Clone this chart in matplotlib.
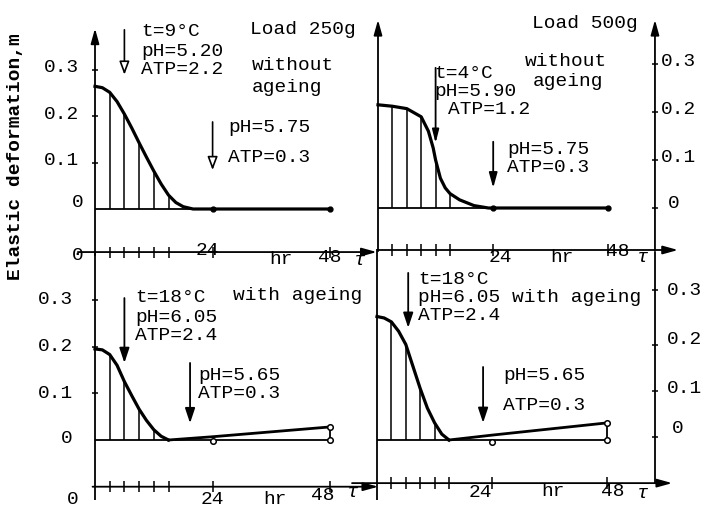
import matplotlib.pyplot as plt

plt.rcParams['font.family'] = ['Liberation Mono', 'DejaVu Sans']

# hours where the hatch lines under the curves are drawn
hatch_hours = [3, 6, 9, 12, 15]
xticks = [3, 6, 9, 12, 15, 24, 48]
yticks = [0.1, 0.2, 0.3]

# load 250g, without ageing
tl_hours = [0, 1.5, 3, 4.5, 6, 7.5, 9, 10.5, 12, 13.5, 15, 16.5, 18, 20, 24, 48]
tl_def = [0.265, 0.262, 0.252, 0.232, 0.205, 0.175, 0.143, 0.112, 0.082, 0.054,
          0.030, 0.014, 0.005, 0.0, 0.0, 0.0]

# load 500g, without ageing
tr_hours = [0, 3, 6, 9, 10.5, 11.5, 12, 13, 14, 15, 17, 20, 23, 24, 48]
tr_def = [0.215, 0.212, 0.207, 0.19, 0.16, 0.125, 0.10, 0.062, 0.042, 0.03,
          0.017, 0.005, 0.0, 0.0, 0.0]

# load 250g, with ageing
bl_hours = [0, 1.5, 3, 4.5, 6, 7.5, 9, 10.5, 12, 13.5, 15]
bl_def = [0.195, 0.193, 0.183, 0.16, 0.125, 0.095, 0.066, 0.042, 0.022, 0.008, 0.0]
bl_age_hours = [15, 24, 48]
bl_age_def = [0.0, 0.007, 0.028]

# load 500g, with ageing
br_hours = [0, 1.5, 3, 4.5, 6, 7.5, 9, 10.5, 12, 13.5, 15]
br_def = [0.252, 0.249, 0.241, 0.222, 0.195, 0.15, 0.105, 0.065, 0.035, 0.012, 0.0]
br_age_hours = [15, 24, 48]
br_age_def = [0.0, 0.01, 0.035]

W, H = 707, 511
fig = plt.figure(figsize=(W / 100, H / 100), dpi=100)
FS = 14


def panel(x0, y0, sx, sy):
    # x0, y0 = pixel of (0 hr, 0 m); sx, sy = pixels per hr / per m
    ax = fig.add_axes([(x0 - 5 * sx) / W, 1 - (y0 + 0.15 * sy) / H,
                       67 * sx / W, 0.57 * sy / H])
    ax.set_xlim(-5, 62)
    ax.set_ylim(-0.15, 0.42)
    ax.axis('off')
    return ax


def arrow(ax, x0, y0, x1, y1, hollow=False, lw=1.3, hl=0.9, hw=0.25):
    ax.annotate('', xy=(x1, y1), xytext=(x0, y0), annotation_clip=False,
                arrowprops=dict(arrowstyle='-|>,head_length=%s,head_width=%s' % (hl, hw),
                                lw=lw, color='k', fc='white' if hollow else 'k',
                                shrinkA=0, shrinkB=0))


def line(ax, xs, ys, lw=1.3):
    ax.plot(xs, ys, color='k', lw=lw, clip_on=False, solid_capstyle='butt')


def txt(x, y, s, **kw):
    fig.text(x / W, 1 - y / H, s, fontsize=FS, va='center', ha='left', **kw)


def curve(ax, hours, vals):
    ax.plot(hours, vals, color='k', lw=2.3, clip_on=False, solid_joinstyle='round')
    for h in hatch_hours:
        ax.vlines(h, 0, vals[hours.index(h)], color='k', lw=1.1)
    line(ax, [0, 48], [0, 0])


def xaxis(ax, v, h0, h1):
    arrow(ax, h0, v, h1, v)
    ax.vlines(xticks, v - 0.012, v + 0.012, color='k', lw=1.1, clip_on=False)


# ---- top left ----
ax = panel(95, 209, 4.9, 463)
arrow(ax, 0, -0.1, 0, 0.39)
xaxis(ax, -0.093, -3.5, 57.5)
ax.hlines(yticks, -0.6, 0.6, color='k', lw=1.1)
curve(ax, tl_hours, tl_def)
ax.plot([24, 48], [0, 0], 'o', color='k', ms=3.5)
for v in [0.3, 0.2, 0.1]:
    ax.text(-3.3, v + 0.005, '%.1f' % v, fontsize=FS, ha='right', va='center')
ax.text(-2.3, 0.015, '0', fontsize=FS, ha='right', va='center')
ax.text(-3.5, -0.1, '0', fontsize=FS, ha='center', va='center')
ax.text(22.9, -0.089, '24', fontsize=FS, ha='center', va='center')
ax.text(38, -0.11, 'hr', fontsize=FS, ha='center', va='center')
ax.text(48, -0.104, '48', fontsize=FS, ha='center', va='center')
ax.text(54, -0.112, 'τ', fontsize=FS, ha='center', va='center', style='italic')
arrow(ax, 6, 0.387, 6, 0.29, hollow=True, lw=1.2, hl=0.8, hw=0.3)
arrow(ax, 24, 0.188, 24, 0.084, hollow=True, lw=1.2, hl=0.8, hw=0.3)

# ---- top right ----
ax = panel(378, 208, 4.8, 480)
arrow(ax, 0, -0.09, 0, 0.392)
arrow(ax, 57.7, -0.09, 57.7, 0.392)
xaxis(ax, -0.0875, 0, 62.5)
ax.hlines([0] + yticks, 57.1, 58.3, color='k', lw=1.1, clip_on=False)
curve(ax, tr_hours, tr_def)
ax.plot([24, 48], [0, 0], 'o', color='k', ms=3.5)
for v in [0.3, 0.2, 0.1]:
    ax.text(58.9, v + 0.005, '%.1f' % v, fontsize=FS, ha='left', va='center')
ax.text(60.3, 0.01, '0', fontsize=FS, ha='left', va='center')
ax.text(25.4, -0.104, '24', fontsize=FS, ha='center', va='center')
ax.text(38.3, -0.104, 'hr', fontsize=FS, ha='center', va='center')
ax.text(50, -0.09, '48', fontsize=FS, ha='center', va='center')
ax.text(55.2, -0.104, 'τ', fontsize=FS, ha='center', va='center', style='italic')
arrow(ax, 12, 0.292, 12, 0.135, hl=0.8, hw=0.2)
arrow(ax, 24, 0.138, 24, 0.042, hl=0.9, hw=0.25)

# ---- bottom left ----
ax = panel(95, 440, 4.9, 467)
line(ax, [0, 0], [0.4, -0.128])
xaxis(ax, -0.1, -0.5, 57.8)
ax.hlines(yticks, -0.6, 0.6, color='k', lw=1.1)
curve(ax, bl_hours, bl_def)
ax.plot(bl_age_hours, bl_age_def, color='k', lw=2, clip_on=False)
line(ax, [48, 48], [0, bl_age_def[-1]])
ax.plot([24, 48, 48], [-0.003, 0, bl_age_def[-1]], 'o', color='k', mfc='white', ms=4, mew=1.1)
for v in [0.3, 0.2, 0.1]:
    ax.text(-4.5, v, '%.1f' % v, fontsize=FS, ha='right', va='center')
ax.text(-4.5, 0.004, '0', fontsize=FS, ha='right', va='center')
ax.text(-4.5, -0.128, '0', fontsize=FS, ha='center', va='center')
ax.text(24, -0.128, '24', fontsize=FS, ha='center', va='center')
ax.text(36.7, -0.128, 'hr', fontsize=FS, ha='center', va='center')
ax.text(46.5, -0.118, '48', fontsize=FS, ha='center', va='center')
ax.text(52.7, -0.113, 'τ', fontsize=FS, ha='center', va='center', style='italic')
arrow(ax, 6, 0.304, 6, 0.165, hl=0.9, hw=0.3)
arrow(ax, 19.4, 0.165, 19.4, 0.036, hl=0.9, hw=0.3)

# ---- bottom right ----
ax = panel(377, 440, 4.8, 490)
line(ax, [0, 0], [0.39, -0.122])
line(ax, [57.9, 57.9], [0.384, -0.088])
xaxis(ax, -0.088, -5.2, 61.5)
ax.hlines([0.006, 0.1, 0.194, 0.306], 57.3, 58.5, color='k', lw=1.1, clip_on=False)
curve(ax, br_hours, br_def)
ax.plot(br_age_hours, br_age_def, color='k', lw=2, clip_on=False)
line(ax, [48, 48], [0, br_age_def[-1]])
ax.plot([24, 48, 48], [-0.004, 0, br_age_def[-1]], 'o', color='k', mfc='white', ms=4, mew=1.1)
for v in [0.3, 0.2, 0.1]:
    ax.text(60.4, v + 0.005, '%.1f' % v, fontsize=FS, ha='left', va='center')
ax.text(61.5, 0.024, '0', fontsize=FS, ha='left', va='center')
ax.text(21.5, -0.108, '24', fontsize=FS, ha='center', va='center')
ax.text(36.7, -0.106, 'hr', fontsize=FS, ha='center', va='center')
ax.text(49.2, -0.106, '48', fontsize=FS, ha='center', va='center')
ax.text(55.4, -0.11, 'τ', fontsize=FS, ha='center', va='center', style='italic')
arrow(ax, 6.5, 0.341, 6.5, 0.229, hl=0.9, hw=0.3)
arrow(ax, 22.1, 0.149, 22.1, 0.035, hl=0.9, hw=0.3)

# ---- annotations ----
txt(141, 32, 't=9°C')
txt(141, 51, 'pH=5.20')
txt(141, 69, 'ATP=2.2')
txt(250, 29, 'Load 250g')
txt(252, 65, 'without')
txt(252, 88, 'ageing')
txt(228, 128, 'pH=5.75')
txt(228, 158, 'ATP=0.3')

txt(532, 23, 'Load 500g')
txt(525, 62, 'without')
txt(533, 81, 'ageing')
txt(434, 73, 't=4°C')
txt(434, 91, 'pH=5.90')
txt(448, 109, 'ATP=1.2')
txt(507, 150, 'pH=5.75')
txt(507, 168, 'ATP=0.3')

txt(135, 297, 't=18°C')
txt(135, 317, 'pH=6.05')
txt(135, 336, 'ATP=2.4')
txt(233, 295, 'with ageing')
txt(198, 375, 'pH=5.65')
txt(198, 393, 'ATP=0.3')

txt(418, 280, 't=18°C')
txt(418, 297, 'pH=6.05 with ageing')
txt(418, 316, 'ATP=2.4')
txt(503, 376, 'pH=5.65')
txt(503, 405, 'ATP=0.3')

fig.text(16 / W, 1 - 157 / H, 'Elastic deformation,m', fontsize=FS, rotation=90,
         ha='center', va='center', fontweight='bold')

fig.savefig('out.png', dpi=100)
